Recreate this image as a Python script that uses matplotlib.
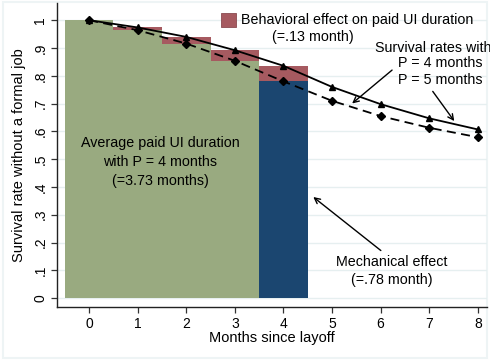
import numpy as np
import matplotlib.pyplot as plt
from matplotlib.patches import Rectangle

months = [0, 1, 2, 3, 4, 5, 6, 7, 8]
# survival rates without a formal job
surv_p4 = [1.0, 0.964, 0.916, 0.854, 0.78, 0.710, 0.655, 0.613, 0.579]
surv_p5 = [1.0, 0.974, 0.940, 0.892, 0.836, 0.760, 0.698, 0.647, 0.607]
y_ticks = [0, .1, .2, .3, .4, .5, .6, .7, .8, .9, 1]
y_ticklabels = ['0', '.1', '.2', '.3', '.4', '.5', '.6', '.7', '.8', '.9', '1']

GREEN = '#99AA80'
BLUE = '#1B4670'
RED = '#A65A60'
GRID = '#E6EFF0'

plt.rcParams['font.family'] = ['Liberation Sans', 'DejaVu Sans']

fig = plt.figure(figsize=(4.9, 3.6), dpi=100)
fig.patches.append(Rectangle((0.006, 0.006), 0.988, 0.988, transform=fig.transFigure,
                             facecolor='white', edgecolor='#EEF4F5', lw=1.5, zorder=-10))
ax = fig.add_axes([57 / 490, 53 / 360, 430 / 490, 304 / 360])
ax.set_facecolor('none')

# paid months under P = 4 (green), extra month (blue), behavioral gap (red)
for m in range(4):
    ax.bar(m, surv_p4[m], width=1.0, color=GREEN, zorder=2)
ax.bar(4, surv_p4[4], width=1.0, color=BLUE, zorder=2)
for m in range(1, 5):
    ax.bar(m, surv_p5[m] - surv_p4[m], bottom=surv_p4[m], width=1.0, color=RED, zorder=2)

ax.plot(months, surv_p5, color='black', lw=1.3, marker='^', ms=4.5, zorder=4)
ax.plot(months, surv_p4, color='black', lw=1.3, ls=(0, (5, 3)), marker='D', ms=3.8, zorder=4)

ax.set_xlim(-0.66, 8.19)
ax.set_ylim(-0.032, 1.062)
ax.set_xticks(months)
ax.set_yticks(y_ticks)
ax.set_yticklabels(y_ticklabels, rotation=90, va='center')
ax.tick_params(axis='both', labelsize=10, length=4, width=0.9, color='#333333')
ax.tick_params(axis='y', pad=3)
ax.yaxis.grid(True, color=GRID, lw=1, zorder=0)
ax.set_axisbelow(True)
for s in ['top', 'right']:
    ax.spines[s].set_visible(False)
for s in ['left', 'bottom']:
    ax.spines[s].set_linewidth(1.0)
    ax.spines[s].set_color('#222222')

ax.set_xlabel('Months since layoff', fontsize=10.5, labelpad=0)
ax.set_ylabel('Survival rate without a formal job', fontsize=10.5, labelpad=5)

# legend box for the behavioral effect
ax.add_patch(Rectangle((2.72, 0.975), 0.30, 0.05, facecolor=RED, edgecolor='#8A4A50',
                       lw=0.6, zorder=5, clip_on=False))
ax.text(3.13, 1.0, 'Behavioral effect on paid UI duration', fontsize=10.3, va='center', ha='left')
ax.text(4.6, 0.94, '(=.13 month)', fontsize=10.3, va='center', ha='center')

ax.text(7.08, 0.899, 'Survival rates with', fontsize=10.3, va='center', ha='center')
ax.text(7.22, 0.845, 'P = 4 months', fontsize=10.3, va='center', ha='center')
ax.text(7.22, 0.784, 'P = 5 months', fontsize=10.3, va='center', ha='center')
ax.annotate('', xy=(5.37, 0.694), xytext=(6.28, 0.827),
            arrowprops=dict(arrowstyle='->', color='black', lw=1.0))
ax.annotate('', xy=(7.55, 0.629), xytext=(7.04, 0.752),
            arrowprops=dict(arrowstyle='->', color='black', lw=1.0))

ax.text(1.46, 0.557, 'Average paid UI duration', fontsize=10.3, va='center', ha='center')
ax.text(1.46, 0.49, 'with P = 4 months', fontsize=10.3, va='center', ha='center')
ax.text(1.46, 0.421, '(=3.73 months)', fontsize=10.3, va='center', ha='center')

ax.text(6.23, 0.13, 'Mechanical effect', fontsize=10.3, va='center', ha='center')
ax.text(6.23, 0.065, '(=.78 month)', fontsize=10.3, va='center', ha='center')
ax.annotate('', xy=(4.57, 0.37), xytext=(6.05, 0.165),
            arrowprops=dict(arrowstyle='->', color='black', lw=1.0))

fig.savefig('out.png', dpi=100)
